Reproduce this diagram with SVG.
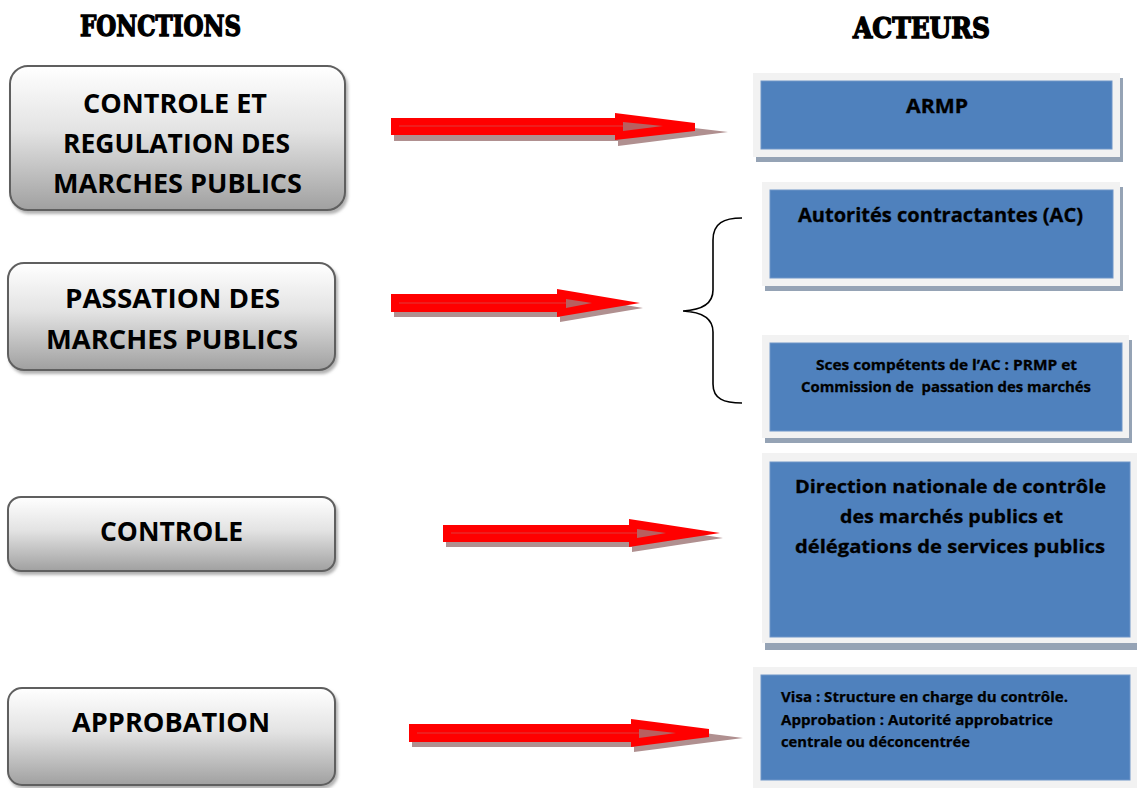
<svg xmlns="http://www.w3.org/2000/svg" width="1137" height="788" viewBox="0 0 1137 788">
<defs>
<linearGradient id="gray" x1="0" y1="0" x2="0" y2="1">
<stop offset="0" stop-color="#ffffff"/>
<stop offset="0.45" stop-color="#e3e3e3"/>
<stop offset="1" stop-color="#a0a0a0"/>
</linearGradient>
<filter id="sh" x="-5%" y="-5%" width="115%" height="120%">
<feDropShadow dx="2" dy="3" stdDeviation="1.5" flood-color="#7f7f7f" flood-opacity="0.6"/>
</filter>
</defs>
<style>
.title{font-family:"DejaVu Serif","Liberation Serif",serif;font-weight:bold;font-size:27px;fill:#000;stroke:#000;stroke-width:1.4}
.fbox{fill:url(#gray);stroke:#5f5f5f;stroke-width:2;filter:url(#sh)}
.ft{font-family:"Open Sans","Noto Sans",sans-serif;font-weight:bold;font-size:26px;fill:#000;text-anchor:middle}
.frame{fill:#f2f2f2}
.bsh{fill:#95a3b5}
.blue{fill:#4f81bd;stroke:#6f95c8;stroke-width:1}
.at{font-family:"Open Sans","Noto Sans",sans-serif;font-weight:bold;fill:#000;text-anchor:middle;stroke:#000;stroke-width:0.3}
.al{font-family:"Open Sans","Noto Sans",sans-serif;font-weight:bold;fill:#000;font-size:14px;stroke:#000;stroke-width:0.25}
.ar{fill:#ff0000}
.ash{fill:#b09090}
.ain{fill:#b86060}
.aline{stroke:#e03a3a;stroke-width:1.2}
.brace{fill:none;stroke:#000;stroke-width:1.6}
</style>
<rect width="1137" height="788" fill="#ffffff"/>

<g id="titles">
<text class="title" x="80" y="36" textLength="161" lengthAdjust="spacingAndGlyphs">FONCTIONS</text>
<text class="title" x="853" y="38" textLength="137" lengthAdjust="spacingAndGlyphs">ACTEURS</text>
</g>

<g id="f1">
<rect class="fbox" x="10" y="66" width="335" height="144" rx="18"/>
<text class="ft" x="175" y="113" textLength="184" lengthAdjust="spacingAndGlyphs">CONTROLE ET</text>
<text class="ft" x="176.5" y="153" textLength="227" lengthAdjust="spacingAndGlyphs">REGULATION DES</text>
<text class="ft" x="177.5" y="193" textLength="249" lengthAdjust="spacingAndGlyphs">MARCHES PUBLICS</text>
</g>
<g id="f2">
<rect class="fbox" x="8" y="263" width="327" height="107" rx="16"/>
<text class="ft" x="172.5" y="308" textLength="215" lengthAdjust="spacingAndGlyphs">PASSATION DES</text>
<text class="ft" x="172" y="349" textLength="252" lengthAdjust="spacingAndGlyphs">MARCHES PUBLICS</text>
</g>
<g id="f3">
<rect class="fbox" x="8" y="497" width="327" height="74" rx="13"/>
<text class="ft" x="171.5" y="541" textLength="143" lengthAdjust="spacingAndGlyphs">CONTROLE</text>
</g>
<g id="f4">
<rect class="fbox" x="8" y="688" width="327" height="97" rx="14"/>
<text class="ft" x="171" y="732" textLength="198" lengthAdjust="spacingAndGlyphs">APPROBATION</text>
</g>

<g id="a1">
<rect class="bsh" x="756" y="78" width="367" height="84"/>
<rect class="frame" x="753" y="73" width="367" height="84"/>
<rect class="blue" x="761" y="81" width="351" height="68"/>
<text class="at" x="937" y="113" font-size="19.5" textLength="62" lengthAdjust="spacingAndGlyphs">ARMP</text>
</g>
<g id="a2">
<rect class="bsh" x="765" y="187" width="358" height="104"/>
<rect class="frame" x="762" y="182" width="358" height="104"/>
<rect class="blue" x="770" y="190" width="343" height="88"/>
<text class="at" x="940.5" y="222" font-size="19" textLength="285" lengthAdjust="spacingAndGlyphs">Autorités contractantes (AC)</text>
</g>
<g id="a3">
<rect class="bsh" x="765" y="340" width="367" height="103"/>
<rect class="frame" x="762" y="335" width="367" height="103"/>
<rect class="blue" x="770" y="343" width="352" height="88"/>
<text class="at" x="946.5" y="370" font-size="15" textLength="261" lengthAdjust="spacingAndGlyphs">Sces compétents de l’AC : PRMP et</text>
<text class="at" x="946" y="392" font-size="15" textLength="290" lengthAdjust="spacingAndGlyphs" xml:space="preserve">Commission de  passation des marchés</text>
</g>
<g id="a4">
<rect class="bsh" x="765" y="458" width="372" height="192"/>
<rect class="frame" x="762" y="453" width="375" height="190"/>
<rect class="blue" x="770" y="462" width="360" height="175"/>
<text class="at" x="950.5" y="493" font-size="18.5" textLength="311" lengthAdjust="spacingAndGlyphs">Direction nationale de contrôle</text>
<text class="at" x="951.5" y="523" font-size="18.5" textLength="223" lengthAdjust="spacingAndGlyphs">des marchés publics et</text>
<text class="at" x="950" y="553" font-size="18.5" textLength="310" lengthAdjust="spacingAndGlyphs">délégations de services publics</text>
</g>
<g id="a5">
<rect class="frame" x="753" y="667" width="384" height="121"/>
<rect class="blue" x="761" y="675" width="369" height="105"/>
<text class="al" x="781" y="702" textLength="287" lengthAdjust="spacingAndGlyphs">Visa : Structure en charge du contrôle.</text>
<text class="al" x="781" y="725" textLength="272" lengthAdjust="spacingAndGlyphs">Approbation : Autorité approbatrice</text>
<text class="al" x="781" y="747" textLength="189" lengthAdjust="spacingAndGlyphs">centrale ou déconcentrée</text>
</g>

<g id="connectors">
<g id="arrow1">
<polygon class="ash" points="394,124 618,124 618,119 728,132 618,146 618,141 394,141"/>
<polygon class="ar" points="391,118 615,118 615,113 695,123 695,131 615,140 615,135 391,135"/>
<line class="aline" x1="399" y1="126" x2="625" y2="126"/>
<polygon class="ain" points="623,122 663,126 623,131"/>
</g>
<g id="arrow2">
<polygon class="ash" points="394,299 560,299 560,294 643,308 560,322 560,317 394,317"/>
<polygon class="ar" points="391,294 557,294 557,289 640,303 557,317 557,312 391,312"/>
<line class="aline" x1="399" y1="303" x2="566" y2="303"/>
<polygon class="ain" points="566,299 592,303 566,308"/>
</g>
<g id="arrow3">
<polygon class="ash" points="446,530 632,530 632,524 723,538 632,552 632,547 446,547"/>
<polygon class="ar" points="443,525 629,525 629,519 720,533 629,547 629,542 443,542"/>
<line class="aline" x1="451" y1="533" x2="637" y2="533"/>
<polygon class="ain" points="637,529 666,533 637,538"/>
</g>
<g id="arrow4">
<polygon class="ash" points="412,729 634,729 634,724 743,738 634,752 634,747 412,747"/>
<polygon class="ar" points="409,724 631,724 631,719 709,729 709,737 631,747 631,742 409,742"/>
<line class="aline" x1="417" y1="733" x2="640" y2="733"/>
<polygon class="ain" points="639,729 676,733 639,738"/>
</g>
<path id="brace" class="brace" d="M742,218 C724,218 713,223 713,240 L713,290 C713,304 702,310 683,311 C702,312 713,318 713,332 L713,384 C713,399 724,403 742,403"/>
</g>
</svg>
